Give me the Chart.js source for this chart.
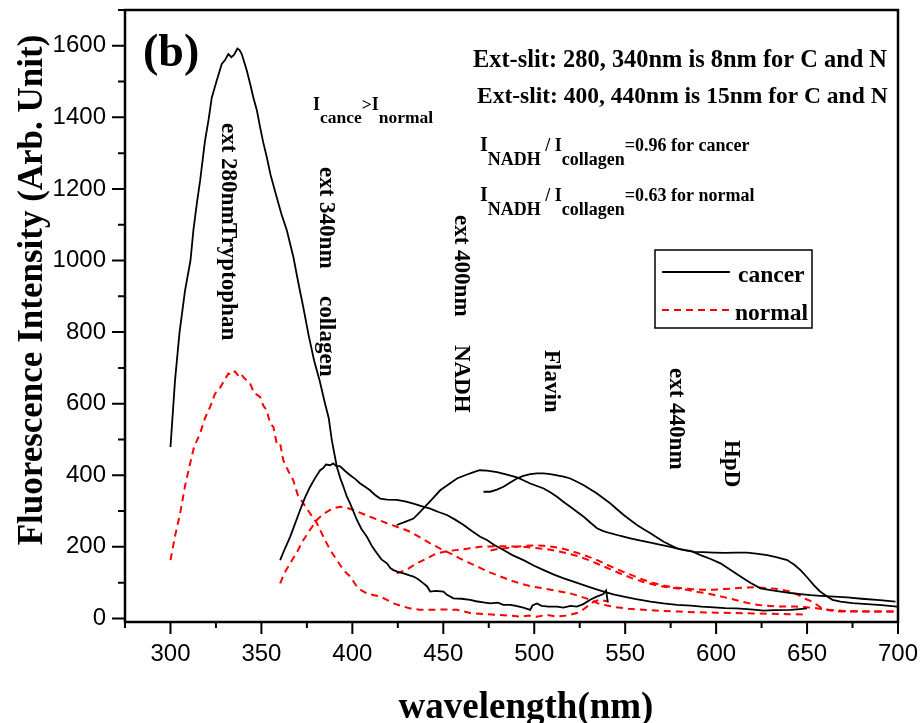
<!DOCTYPE html>
<html>
<head>
<meta charset="utf-8">
<title>fluorescence spectra (b)</title>
<script src="https://cdn.jsdelivr.net/npm/chart.js@4/dist/chart.umd.min.js"></script>
<style>
html, body { margin: 0; padding: 0; background: #fff; overflow: hidden; }
#chart { display: block; }
</style>
</head>
<body>
<canvas id="chart" width="921" height="723"></canvas>
<script>
// data, [wavelength nm, intensity]
var cancer280 = [[300,479],[302.5,665],[305,800],[308,916],[311,1000],[312.6,1084],[314.5,1160],[316.3,1223],[319,1335],[321,1395],[322.7,1455],[325.4,1502],[328.2,1549],[330,1560],[331.8,1577],[333.5,1568],[335,1575],[336.8,1592],[338,1588],[339.2,1577],[342,1530],[344,1490],[345.6,1455],[347.5,1420],[349.3,1372],[351,1330],[353,1288],[355,1240],[358.4,1177],[361,1130],[364,1084],[367.6,1009],[370.4,935],[373,870],[376,790],[379,720],[382,665],[385,600],[387,560],[388.7,498],[391.5,423],[393.5,390],[395.1,368],[397,340],[398.8,321],[400.5,300],[402.5,275],[405,250],[408,228],[411,200],[413.5,182],[416,165],[419,154],[421,140],[422.6,135],[425,130],[428.1,126],[431,121],[433.6,117],[436,110],[439.1,98],[441,90],[442.8,75],[446,77],[450.1,75],[452,66],[455.6,56],[460,55],[464.8,52],[468,48],[472,45],[475.8,42],[480,44],[483,38],[486.8,38],[490,35],[494,30],[497.8,24],[499,36],[501.5,42],[504,35],[508,33],[512.5,33],[516,30],[520,35],[523.5,33],[527,40],[530.8,52],[534,60],[538,68],[539.5,78],[540.5,45]];
var cancer340 = [[360.3,163],[363,196],[365.8,228],[368.5,265],[371.3,303],[374,338],[376.8,368],[379.5,392],[382.3,414],[384,420],[385.5,430],[387.8,428],[389.5,433],[391,426],[393.3,425],[396,412],[398.8,400],[401.5,390],[404.3,377],[407,368],[409.7,358],[412.5,345],[415.3,335],[419,332],[424.4,331],[429,327],[433.6,321],[438,314],[442.8,307],[447,298],[452,289],[456.5,276],[461.2,261],[465.5,245],[470.3,228],[474,219],[478,205],[483.1,191],[488,177],[494.1,163],[499.7,148],[505.2,135],[510.5,123],[516.2,112],[522,102],[527.2,93],[532.5,84],[538.2,75],[543.5,67],[549.2,61],[556,54],[563.9,47],[571,42],[578.5,38],[586,36],[592,33],[598.7,31],[605,29],[611,28],[617.1,26],[622,24],[626.2,22],[632,23],[640.9,24],[646,26],[650,28]];
var cancer400 = [[424.4,261],[429,270],[433.6,279],[437,296],[440.9,317],[444.5,337],[448.3,358],[453,375],[457.5,391],[462,400],[466.7,409],[470,414],[474,413],[479.5,409],[485,402],[490.5,394],[494,386],[497.8,377],[501.5,370],[505.2,363],[509,352],[512.5,340],[516,326],[519.8,312],[523.5,298],[527.2,284],[530.8,268],[534.5,252],[538,244],[541.8,238],[547,231],[552.8,224],[558,218],[563.9,212],[569,206],[574.9,200],[580.4,193],[585.9,189],[591.4,177],[597,166],[602.4,154],[608,135],[613.4,117],[619,99],[624.4,84],[630,79],[635.4,75],[641,71],[646.4,68],[652,65],[657.4,63],[665,61],[672.1,59],[680,55],[690,51],[698.6,47]];
var cancer440 = [[472.1,354],[475.8,354],[479.5,360],[483.1,368],[486.8,380],[490.5,391],[494,398],[497.8,403],[501.5,405],[505.2,405],[508.9,403],[512.5,400],[516.2,396],[519.8,391],[523.5,382],[527.2,372],[530.8,361],[534.5,349],[538.2,335],[541.9,321],[545.5,305],[549.2,289],[552.8,275],[556.5,261],[560.2,249],[563.9,238],[567.5,226],[571.2,214],[574.8,205],[578.5,196],[583,190],[588,186],[593,185],[598.7,184],[605,183],[611,184],[617.1,184],[622,181],[628.1,177],[633,171],[639.1,163],[643,150],[646.4,135],[650,115],[653.7,93],[657,76],[661,61],[664,52],[668.4,47],[675,43],[683,40],[691,37],[699.5,33]];

var normal280 = [[300,163],[302.5,230],[305.3,293],[308,370],[310.8,433],[313,480],[316.3,517],[319,560],[321.8,591],[324.5,628],[327.3,645],[330,668],[331.8,684],[333.5,680],[335.5,690],[337,680],[338.5,686],[340.1,674],[343.8,656],[346,630],[349.3,619],[351,595],[352.9,582],[354.8,545],[356.6,535],[358.4,489],[360.3,489],[362,442],[365,410],[367.5,386],[370,345],[373.1,321],[376.8,293],[378.5,280],[380.5,266],[384.1,228],[387.8,191],[391.5,163],[395.1,135],[398.8,117],[402.5,89],[405,78],[408,70],[412,65],[415.3,61],[419,52],[422.6,42],[427,35],[431.8,28],[437,24],[442.8,24],[450,25],[457.5,24],[464.8,15],[472,12],[479.5,10],[486,8],[492.3,5],[497,8],[501.5,5],[507,10],[512.5,5],[518,8],[523.5,15],[527,25],[529,33],[532.7,47],[536,52],[540,48]];
var normal340 = [[360.3,98],[362.5,125],[365.8,154],[369.5,185],[373.1,219],[376.8,248],[380.5,275],[384,292],[387.8,303],[390.5,309],[393.3,312],[397,309],[400.6,303],[405,294],[409.7,284],[414.5,275],[419,266],[424.4,256],[428,250],[431.8,242],[437,227],[442.8,210],[448.3,195],[453.8,182],[459,168],[464.8,154],[470,142],[474,132],[480,120],[486,108],[492,98],[498,90],[505,84],[512,77],[519.8,70],[525,62],[530.8,52],[535,42],[540,36],[545,31],[552,27],[560,24],[570,21],[580,19],[590,17],[600,16],[610,15],[620,14],[630,13],[640,12],[650,11]];
var normal400 = [[424.4,126],[428,133],[431,140],[435.5,154],[440,165],[446.5,182],[452,188],[457.5,191],[464.8,196],[470.3,200],[476,201],[482,202],[488,201],[494,200],[500,197],[506,194],[512,189],[518,182],[524,174],[530,163],[536,150],[542,137],[548,124],[554,112],[560,102],[566,94],[572,88],[578,84],[584,80],[590,74],[596,69],[602,62],[608,55],[614,47],[620,40],[626,36],[632,34],[638,33],[644,33],[650,31],[656,28],[662,24],[670,21],[680,20],[690,19],[700,19]];
var normal440 = [[476,190],[480,194],[485,197],[490,200],[495,203],[500,204],[505,203],[510,200],[515,196],[520,189],[525,181],[530,172],[535,162],[540,150],[545,139],[550,128],[555,118],[560,108],[565,100],[570,93],[575,88],[580,85],[586,82],[592,80],[598,80],[604,82],[610,84],[616,86],[622,87],[628,85],[634,82],[640,76],[645,66],[649,55],[652.7,47],[656,36],[658.2,28],[662,23],[668.4,19],[680,19],[690,19],[700,19]];

// tick labels
var xTickValues = [300, 350, 400, 450, 500, 550, 600, 650, 700];
var yTickValues = [0, 200, 400, 600, 800, 1000, 1200, 1400, 1600];
var seriesNames = ['cancer', 'normal'];

var black = '#000000';
var red = '#ff0000';
var serif = '"Liberation Serif", "Times New Roman", serif';
var sans = '"Liberation Sans", Arial, sans-serif';

// helpers
function makeLine(points, color, dashed) {
    return {
        data: points.map(function (p) {
            return { x: p[0], y: p[1] };
        }),
        borderColor: color,
        borderWidth: dashed ? 2 : 1.8,
        borderDash: dashed ? [7, 5] : [],
        pointRadius: 0,
        tension: 0,
        fill: false
    };
}

function boldText(ctx, str, x, y, size, angle) {
    ctx.save();
    ctx.translate(x, y);
    if (angle) {
        ctx.rotate(angle);
    }
    ctx.font = 'bold ' + size + 'px ' + serif;
    ctx.fillText(str, 0, 0);
    ctx.restore();
}

// runs of [text, baseline shift, size] for the subscripts
function textRun(ctx, parts, x, y) {
    parts.forEach(function (part) {
        ctx.font = 'bold ' + part[2] + 'px ' + serif;
        ctx.fillText(part[0], x, y + part[1]);
        x += ctx.measureText(part[0]).width;
    });
}

// keep the plot box where the figure has it, no room for label overhang
function noOverhang(scale) {
    scale.paddingTop = 0;
    scale.paddingBottom = 0;
    scale.paddingLeft = 0;
    scale.paddingRight = 0;
}

var decorations = {
    id: 'decorations',
    afterDraw: function (chart) {
        var ctx = chart.ctx;
        var area = chart.chartArea;
        var xs = chart.scales.x;
        var ys = chart.scales.y;
        var i, px;

        ctx.save();
        ctx.strokeStyle = black;
        ctx.fillStyle = black;

        // frame
        ctx.lineWidth = 2.5;
        ctx.strokeRect(area.left, area.top, area.right - area.left, area.bottom - area.top);

        // major and minor ticks, outward
        ctx.lineWidth = 2;
        ctx.beginPath();
        for (i = 0; i < xTickValues.length; i++) {
            px = xs.getPixelForValue(xTickValues[i]);
            ctx.moveTo(px, area.bottom);
            ctx.lineTo(px, area.bottom + 12);
            px = xs.getPixelForValue(xTickValues[i] - 25);
            ctx.moveTo(px, area.bottom);
            ctx.lineTo(px, area.bottom + 6);
        }
        for (i = 0; i < yTickValues.length; i++) {
            px = ys.getPixelForValue(yTickValues[i]);
            ctx.moveTo(area.left, px);
            ctx.lineTo(area.left - 13, px);
            px = ys.getPixelForValue(yTickValues[i] + 100);
            ctx.moveTo(area.left, px);
            ctx.lineTo(area.left - 7, px);
        }
        ctx.stroke();

        // axis titles
        ctx.textAlign = 'center';
        boldText(ctx, 'wavelength(nm)', 526, 718, 37);
        boldText(ctx, 'Fluorescence Intensity (Arb. Unit)', 42, 290, 35, -Math.PI / 2);
        ctx.textAlign = 'left';

        // notes
        boldText(ctx, '(b)', 143, 66, 46);
        boldText(ctx, 'Ext-slit: 280, 340nm is 8nm for C and N', 473, 67, 24.4);
        boldText(ctx, 'Ext-slit: 400, 440nm is 15nm for C and N', 477, 103, 23.5);
        textRun(ctx, [['I', 0, 18], ['cance', 12.5, 17.5], ['>', 0, 17.5], ['I', 0, 18], ['normal', 12.5, 17.5]], 313, 110);
        textRun(ctx, [['I', 0, 20], ['NADH', 14, 18], [' / I', 0, 18], ['collagen', 14, 18], ['=0.96 for cancer', 0, 18]], 480, 151);
        textRun(ctx, [['I', 0, 20], ['NADH', 14, 18], [' / I', 0, 18], ['collagen', 14, 18], ['=0.63 for normal', 0, 18]], 480, 201);

        // excitation / fluorophore labels, reading downwards
        var down = Math.PI / 2;
        boldText(ctx, 'ext 280nm', 222, 123, 23, down);
        boldText(ctx, 'Tryptophan', 222, 223, 23, down);
        boldText(ctx, 'ext 340nm', 320, 167, 23, down);
        boldText(ctx, 'collagen', 320, 296, 23, down);
        boldText(ctx, 'ext 400nm', 455, 215, 23, down);
        boldText(ctx, 'NADH', 455, 345, 23, down);
        boldText(ctx, 'Flavin', 545, 350, 23, down);
        boldText(ctx, 'ext 440nm', 670, 368, 23, down);
        boldText(ctx, 'HpD', 725, 440, 23, down);

        // legend
        ctx.lineWidth = 1.5;
        ctx.strokeRect(655, 250, 157, 78);
        ctx.lineWidth = 2;
        ctx.beginPath();
        ctx.moveTo(662, 272);
        ctx.lineTo(730, 272);
        ctx.stroke();
        ctx.strokeStyle = red;
        ctx.setLineDash([7, 5]);
        ctx.beginPath();
        ctx.moveTo(662, 310);
        ctx.lineTo(730, 310);
        ctx.stroke();
        ctx.setLineDash([]);
        boldText(ctx, seriesNames[0], 738, 282, 23.5);
        boldText(ctx, seriesNames[1], 735, 320, 23.5);

        ctx.restore();
    }
};

var tickFont = { family: sans, size: 24 };

var chart = new Chart(document.querySelector('#chart'), {
    type: 'line',
    data: {
        datasets: [
            makeLine(cancer280, black, false),
            makeLine(cancer340, black, false),
            makeLine(cancer400, black, false),
            makeLine(cancer440, black, false),
            makeLine(normal280, red, true),
            makeLine(normal340, red, true),
            makeLine(normal400, red, true),
            makeLine(normal440, red, true)
        ]
    },
    options: {
        responsive: false,
        animation: false,
        devicePixelRatio: 1,
        layout: { padding: { top: 10, right: 23, left: 0, bottom: 0 } },
        plugins: {
            legend: { display: false },
            tooltip: { enabled: false }
        },
        scales: {
            x: {
                type: 'linear',
                min: 275,
                max: 700,
                bounds: 'data',
                grid: { display: false, drawTicks: false },
                border: { display: false },
                ticks: {
                    font: tickFont,
                    color: black,
                    padding: 18,
                    maxRotation: 0,
                    autoSkip: false,
                    callback: function (value) {
                        return String(value);
                    }
                },
                afterBuildTicks: function (scale) {
                    scale.ticks = xTickValues.map(function (v) {
                        return { value: v };
                    });
                },
                afterFit: function (scale) {
                    scale.height = 101;
                    noOverhang(scale);
                }
            },
            y: {
                type: 'linear',
                min: -10,
                max: 1700,
                bounds: 'data',
                grid: { display: false, drawTicks: false },
                border: { display: false },
                ticks: {
                    font: tickFont,
                    color: black,
                    padding: 19,
                    autoSkip: false,
                    callback: function (value) {
                        return String(value);
                    }
                },
                afterBuildTicks: function (scale) {
                    scale.ticks = yTickValues.map(function (v) {
                        return { value: v };
                    });
                },
                afterFit: function (scale) {
                    scale.width = 125;
                    noOverhang(scale);
                }
            }
        }
    },
    plugins: [decorations]
});
</script>
</body>
</html>
